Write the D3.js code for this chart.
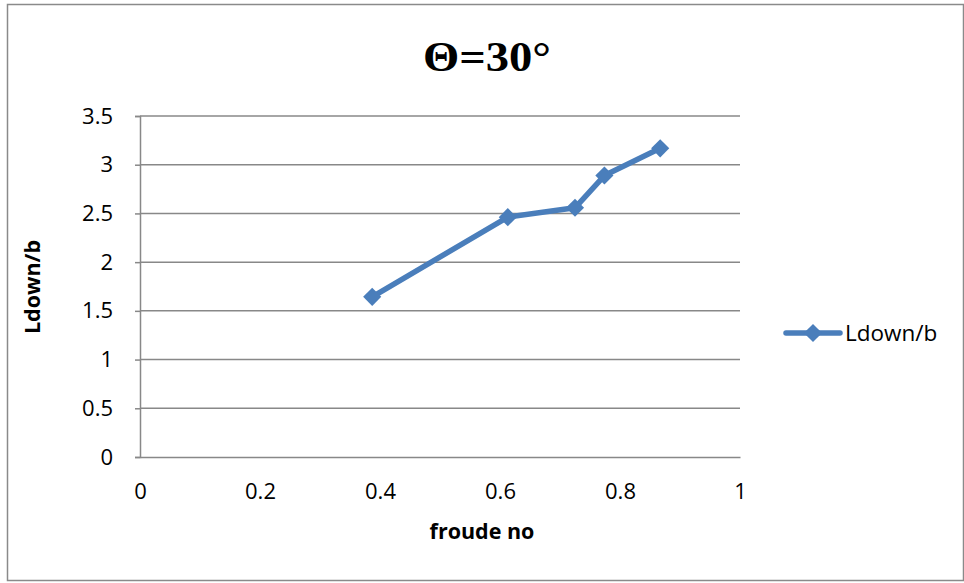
<!DOCTYPE html>
<html>
<head>
<meta charset="utf-8">
<script src="https://cdn.jsdelivr.net/npm/d3@7"></script>
<style>
  html, body { margin: 0; padding: 0; background: #fff; }
  svg { display: block; }
</style>
</head>
<body>
<svg id="chart" width="964" height="583"></svg>
<script>
// Downstream length ratio vs Froude number at 30 degrees
const froude = [0.387, 0.613, 0.725, 0.774, 0.867];
const ldown = [1.644, 2.462, 2.558, 2.889, 3.168];
const xTicks = [0, 0.2, 0.4, 0.6, 0.8, 1];
const yTicks = [0, 0.5, 1, 1.5, 2, 2.5, 3, 3.5];
const seriesName = "Ldown/b";
const titleText = "\u0398=30\u00B0";
const xLabel = "froude no";
const yLabel = "Ldown/b";

const svg = d3.select("#chart");
const W = 964, H = 583;
const plot = { left: 140, right: 740, top: 116, bottom: 457 };
const blue = "#4A7EBB";
const gridColor = "#888888";
const font = "'Open Sans', sans-serif";

svg.append("rect").attr("width", W).attr("height", H).attr("fill", "#fff");
// outer frame
svg.append("rect")
  .attr("x", 7.5).attr("y", 4.5).attr("width", 956).attr("height", 576)
  .attr("fill", "none").attr("stroke", "#8a8a8a").attr("stroke-width", 1.5);

const x = d3.scaleLinear().domain([0, 1]).range([plot.left, plot.right]);
const y = d3.scaleLinear().domain([0, 3.5]).range([plot.bottom, plot.top]);

// horizontal gridlines
svg.append("g").selectAll("line").data(yTicks.filter(v => v > 0)).join("line")
  .attr("x1", plot.left).attr("x2", plot.right)
  .attr("y1", d => y(d)).attr("y2", d => y(d))
  .attr("stroke", gridColor).attr("stroke-width", 1.5);

// y axis
const yAxis = svg.append("g").attr("transform", `translate(${plot.left},0)`)
  .call(d3.axisLeft(y).tickValues(yTicks).tickSize(5).tickPadding(22).tickFormat(d3.format("")));
yAxis.select(".domain").attr("stroke", gridColor).attr("stroke-width", 1.5);
yAxis.selectAll(".tick line").attr("stroke", gridColor).attr("stroke-width", 1.5);
yAxis.selectAll("text").attr("font-family", font).attr("font-size", 22).attr("fill", "#000");

// x axis
const xAxis = svg.append("g").attr("transform", `translate(0,${plot.bottom})`)
  .call(d3.axisBottom(x).tickValues(xTicks).tickSize(0).tickPadding(26).tickFormat(d3.format("")));
xAxis.select(".domain").attr("stroke", gridColor).attr("stroke-width", 1.5);
xAxis.selectAll("text").attr("font-family", font).attr("font-size", 22).attr("fill", "#000");

// series line
const pts = froude.map((f, i) => [f, ldown[i]]);
svg.append("path").datum(pts)
  .attr("fill", "none").attr("stroke", blue).attr("stroke-width", 5.5)
  .attr("stroke-linejoin", "round").attr("stroke-linecap", "round")
  .attr("d", d3.line().x(d => x(d[0])).y(d => y(d[1])));

const diamond = d3.symbol().type(d3.symbolDiamond2).size(210);
svg.append("g").selectAll("path").data(pts).join("path")
  .attr("transform", d => `translate(${x(d[0])},${y(d[1])})`)
  .attr("d", diamond).attr("fill", blue);

// title
svg.append("text").attr("x", 487).attr("y", 71).attr("text-anchor", "middle")
  .attr("font-family", "'Liberation Serif', 'Times New Roman', serif")
  .attr("font-weight", "bold").attr("font-size", 42)
  .attr("textLength", 128).attr("lengthAdjust", "spacingAndGlyphs")
  .text(titleText);

// axis titles
svg.append("text").attr("x", 482).attr("y", 539).attr("text-anchor", "middle")
  .attr("font-family", font).attr("font-weight", "bold").attr("font-size", 21.5)
  .text(xLabel);
svg.append("text").attr("transform", "translate(40,287) rotate(-90)")
  .attr("text-anchor", "middle")
  .attr("font-family", font).attr("font-weight", "bold").attr("font-size", 21.5)
  .text(yLabel);

// legend
const lg = svg.append("g").attr("transform", "translate(786,333)");
lg.append("line").attr("x1", 0).attr("x2", 54).attr("y1", 0).attr("y2", 0)
  .attr("stroke", blue).attr("stroke-width", 5.5).attr("stroke-linecap", "round");
lg.append("path").attr("transform", "translate(27,0)").attr("d", diamond).attr("fill", blue);
lg.append("text").attr("x", 59).attr("y", 8)
  .attr("font-family", font).attr("font-size", 22.5).text(seriesName);
</script>
</body>
</html>
